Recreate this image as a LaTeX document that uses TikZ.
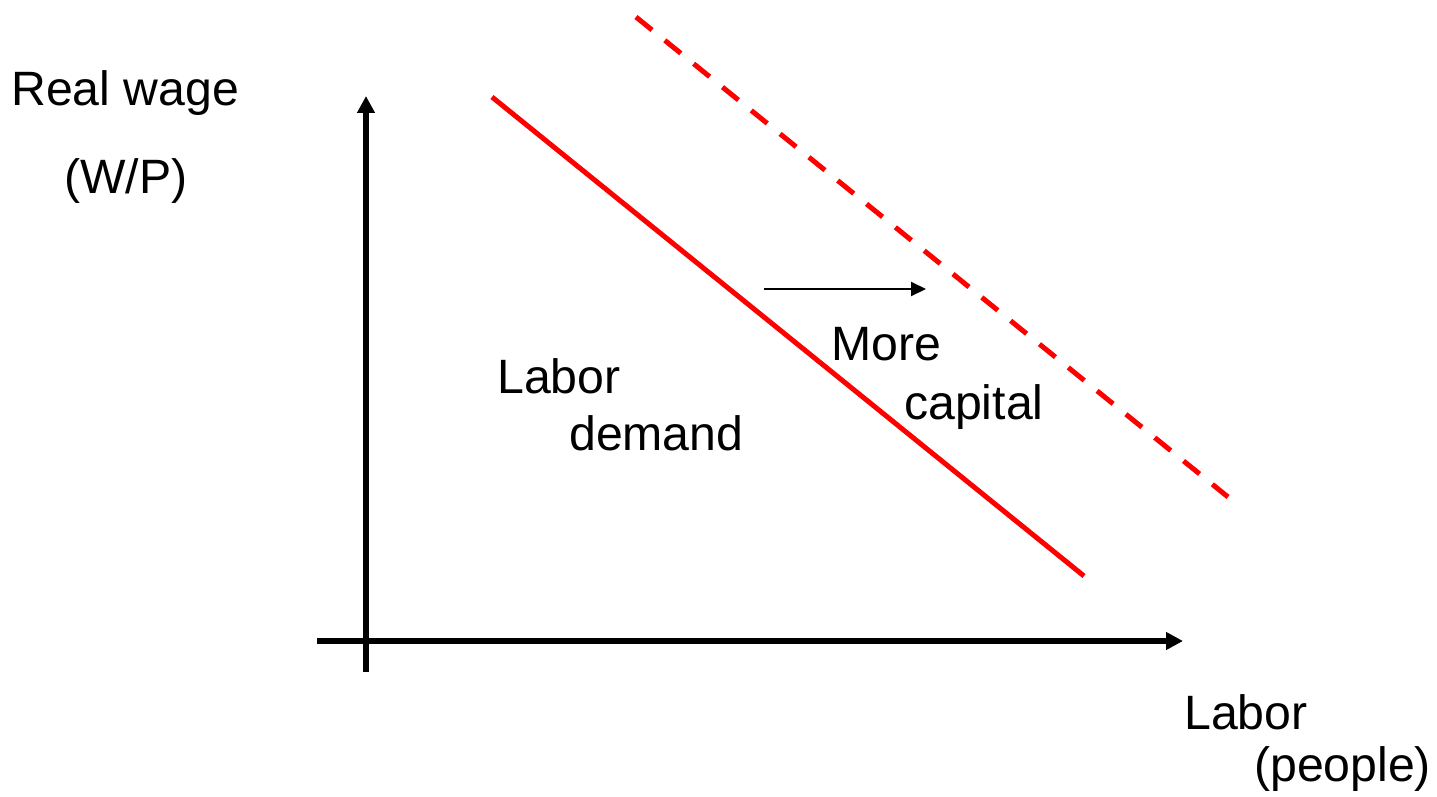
\documentclass[tikz,border=0pt]{standalone}
\usepackage{fontspec}
\setmainfont{Liberation Sans}
\usetikzlibrary{arrows.meta}
\begin{document}
\begin{tikzpicture}[x=1pt,y=-1pt,
  lbl/.style={anchor=base west,inner sep=0pt,font=\fontsize{48.2}{57}\selectfont},
  axis/.style={line width=5.5pt,-{Triangle[length=17pt,width=17pt]}},
  demand/.style={red,line width=5pt},
  shifted/.style={demand,dash pattern=on 20.6pt off 16.5pt},
  shiftarrow/.style={line width=2pt,-{Triangle[length=15pt,width=14pt]}}]
\useasboundingbox (0,0) rectangle (1437,797);
\coordinate (ybot) at (366,672);
\coordinate (ytop) at (366,96);
\coordinate (xleft) at (317,641);
\coordinate (xright) at (1183,641);
\coordinate (d1a) at (492,97);
\coordinate (d1b) at (1084,576);
\coordinate (d2a) at (636,17);
\coordinate (d2b) at (1228,497);
\coordinate (sa) at (764,289);
\coordinate (sb) at (926,289);
\draw[axis] (ybot) -- (ytop);
\draw[axis] (xleft) -- (xright);
\draw[demand] (d1a) -- (d1b);
\draw[shifted] (d2a) -- (d2b);
\draw[shiftarrow] (sa) -- (sb);
\node[lbl] (rw) at (11,106) {Real wage};
\node[lbl] (wp) at (64,193) {(W/P)};
\node[lbl] (ld1) at (497,393) {Labor};
\node[lbl] (ld2) at (569,450) {demand};
\node[lbl] (mc1) at (831,360) {More};
\node[lbl] (mc2) at (904,419) {capital};
\node[lbl] (lp1) at (1184,729) {Labor};
\node[lbl] (lp2) at (1254,781) {(people)};
\end{tikzpicture}
\end{document}
